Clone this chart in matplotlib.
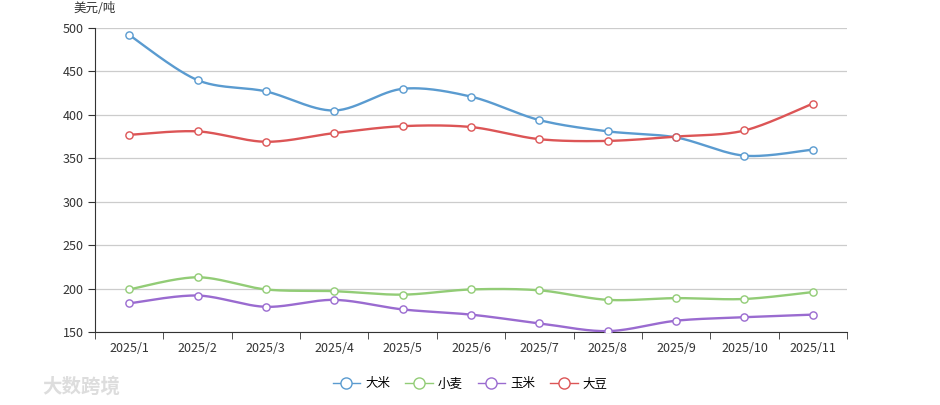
import matplotlib
matplotlib.use('Agg')
import matplotlib.pyplot as plt
import numpy as np

plt.rcParams['font.family'] = ['Noto Sans CJK SC', 'DejaVu Sans']

months = ['2025/1', '2025/2', '2025/3', '2025/4', '2025/5', '2025/6',
          '2025/7', '2025/8', '2025/9', '2025/10', '2025/11']
rice = [492, 440, 427, 405, 430, 421, 394, 381, 374, 353, 360]
wheat = [199, 213, 199, 197, 193, 199, 198, 187, 189, 188, 196]
corn = [183, 192, 179, 187, 176, 170, 160, 151, 163, 167, 170]
soybean = [377, 381, 369, 379, 387, 386, 372, 370, 375, 382, 413]

series = [('大米', rice, '#5a9bd0'), ('小麦', wheat, '#92cc76'),
          ('玉米', corn, '#9a6bd0'), ('大豆', soybean, '#dc5556')]


def smooth_curve(xs, ys, s=0.35, n=30):
    # bezier smoothing like echarts smooth lines
    xs = np.asarray(xs, float)
    ys = np.asarray(ys, float)
    px, py = [], []
    for i in range(len(xs) - 1):
        x0, y0 = xs[i], ys[i]
        x1, y1 = xs[i + 1], ys[i + 1]
        xp, yp = (xs[i - 1], ys[i - 1]) if i > 0 else (x0, y0)
        xn, yn = (xs[i + 2], ys[i + 2]) if i + 2 < len(xs) else (x1, y1)
        c1x, c1y = x0 + s * (x1 - xp) / 2 * 0.9, y0 + s * (y1 - yp) / 2 * 0.9
        c2x, c2y = x1 - s * (xn - x0) / 2 * 0.9, y1 - s * (yn - y0) / 2 * 0.9
        t = np.linspace(0, 1, n)
        bx = (1-t)**3*x0 + 3*(1-t)**2*t*c1x + 3*(1-t)*t**2*c2x + t**3*x1
        by = (1-t)**3*y0 + 3*(1-t)**2*t*c1y + 3*(1-t)*t**2*c2y + t**3*y1
        px.extend(bx)
        py.extend(by)
    return px, py


fig = plt.figure(figsize=(9.4, 4.05), dpi=100)
ax = fig.add_axes([95/940, 1-332/405, 752/940, 304/405])

x = np.arange(len(months))
handles = []
for name, vals, col in series:
    sx, sy = smooth_curve(x, vals)
    ax.plot(sx, sy, color=col, lw=1.7, zorder=3)
    ax.plot(x, vals, 'o', ms=5.2, mfc='white', mec=col, mew=1.0, zorder=4)
    h, = ax.plot([], [], color=col, lw=1.0, marker='o', ms=8, mfc='white', mec=col, mew=1.0)
    handles.append(h)

ax.set_xlim(-0.5, len(months) - 0.5)
ax.set_ylim(150, 500)
ax.set_yticks(np.arange(150, 501, 50))
ax.yaxis.grid(True, color='#cccccc', lw=0.9)
ax.set_axisbelow(True)
ax.set_xticks(x)
ax.set_xticklabels(months)
ax.set_xticks(np.arange(-0.5, len(months), 1), minor=True)
ax.tick_params(axis='x', which='major', length=0, pad=7, labelsize=9, colors='#333333')
ax.tick_params(axis='x', which='minor', length=5, color='#333333')
ax.tick_params(axis='y', length=5, labelsize=9, colors='#333333', pad=3)
for sp in ['top', 'right']:
    ax.spines[sp].set_visible(False)
ax.spines['left'].set_color('#333333')
ax.spines['bottom'].set_color('#333333')

fig.text(73/940, 1-12/405, '美元/吨', fontsize=9, color='#333333', va='baseline')

fig.legend(handles, [s[0] for s in series], loc='center', bbox_to_anchor=(0.5, 1-384/405),
           ncol=4, frameon=False, fontsize=9, handlelength=2.2, columnspacing=1.2, handletextpad=0.4)

fig.text(42/940, 1-387/405, '大数跨境', fontsize=14, color='#dddddd', va='center', fontweight='bold')

fig.savefig('out.png', dpi=100)
